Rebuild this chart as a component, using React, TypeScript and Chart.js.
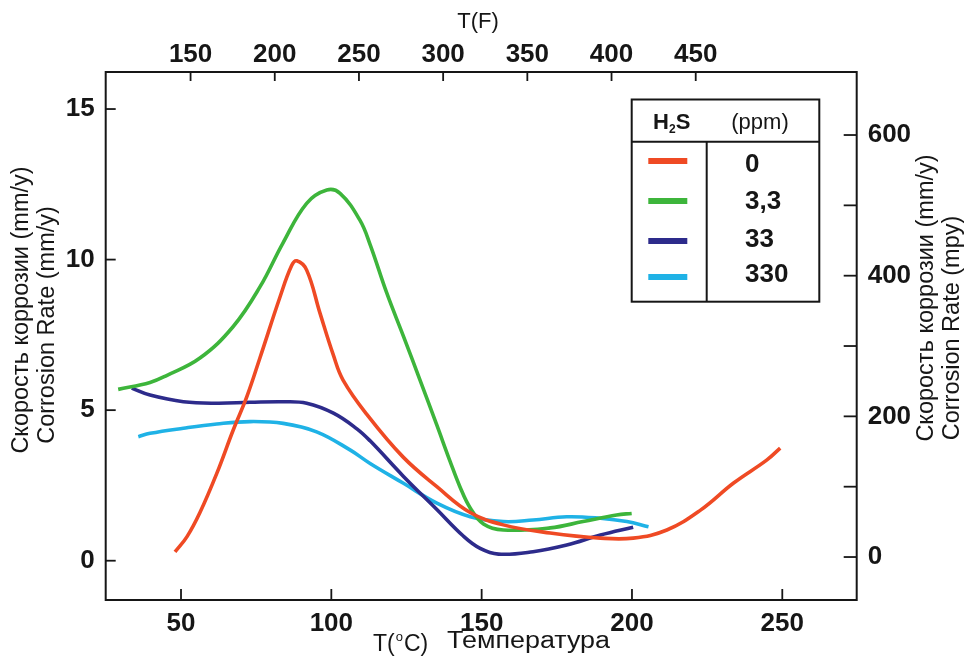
import React, { useEffect, useRef } from 'react';
import { Chart, registerables } from 'chart.js';

Chart.register(...registerables);

// ---- data (temperature °C, corrosion rate mm/y) ----
const seriesLabels = ['0', '3,3', '33', '330'];
const seriesColors = ['#ef4a24', '#3db53b', '#2d2b8b', '#1fb2e6'];

const redTemps = [48.0, 52.0, 56.3, 61.9, 67.4, 71.9, 76.3, 82.9, 86.8, 88.5, 91.8, 96.2, 100.6, 103.9, 112.2, 123.9, 135.1, 146.2, 157.2, 172.8, 189.5, 200.4, 211.6, 222.8, 233.8, 244.8, 249.3];
const redRates = [0.29, 0.8, 1.6, 2.9, 4.35, 5.45, 6.75, 8.75, 9.8, 9.96, 9.65, 8.23, 6.85, 6.0, 4.81, 3.44, 2.46, 1.6, 1.19, 0.92, 0.75, 0.75, 1.02, 1.68, 2.58, 3.34, 3.74];

const greenTemps = [29.1, 39.7, 45.2, 56.3, 67.3, 76.3, 83.9, 91.8, 98.5, 102.9, 109.5, 112.9, 118.4, 124.0, 129.5, 135.1, 139.5, 142.8, 146.2, 150.6, 157.2, 172.8, 183.7, 194.9, 199.9];
const greenRates = [5.69, 5.92, 6.15, 6.73, 7.77, 9.1, 10.55, 11.87, 12.31, 12.2, 11.31, 10.5, 8.9, 7.45, 6.0, 4.5, 3.3, 2.45, 1.75, 1.22, 1.02, 1.09, 1.3, 1.52, 1.57];

const blueTemps = [33.6, 39.7, 50.8, 61.9, 72.9, 84.0, 91.8, 100.7, 108.5, 112.9, 124.0, 135.1, 143.9, 149.5, 155.6, 167.1, 178.3, 189.5, 200.4];
const blueRates = [5.73, 5.5, 5.28, 5.23, 5.26, 5.28, 5.23, 4.9, 4.38, 3.98, 2.8, 1.7, 0.82, 0.41, 0.22, 0.3, 0.52, 0.85, 1.11];

const cyanTemps = [35.8, 39.7, 50.8, 61.9, 72.9, 84.0, 95.1, 106.2, 112.9, 124.0, 135.1, 146.2, 157.2, 167.1, 178.3, 189.5, 198.3, 205.5];
const cyanRates = [4.12, 4.23, 4.4, 4.54, 4.62, 4.56, 4.28, 3.68, 3.23, 2.57, 1.91, 1.46, 1.3, 1.35, 1.46, 1.41, 1.3, 1.13];

const celsiusTicks = [50, 100, 150, 200, 250];
const fahrenheitTicks = [150, 200, 250, 300, 350, 400, 450];
const mmTicks = [0, 5, 10, 15];
const mpyTicks = [0, 200, 400, 600];
const mpyMinorTicks = [100, 300, 500];

const FONT = '"Liberation Sans", Arial, Helvetica, sans-serif';
const INK = '#161616';

const toPoints = (xs: number[], ys: number[]) => xs.map((x, i) => ({ x, y: ys[i] }));
const seriesTemps = [redTemps, greenTemps, blueTemps, cyanTemps];
const seriesRates = [redRates, greenRates, blueRates, cyanRates];

const fixSize = (prop: 'width' | 'height', v: number) => (scale: any) => {
  scale[prop] = v;
  scale.paddingLeft = 0;
  scale.paddingRight = 0;
  scale.paddingTop = 0;
  scale.paddingBottom = 0;
};

const decorPlugin = {
  id: 'decor',
  afterDraw(chart: any) {
    const { ctx, chartArea: a, scales } = chart;
    ctx.save();
    ctx.strokeStyle = INK;
    ctx.fillStyle = INK;
    const line = (x1: number, y1: number, x2: number, y2: number) => {
      ctx.beginPath();
      ctx.moveTo(x1, y1);
      ctx.lineTo(x2, y2);
      ctx.stroke();
    };
    // frame
    ctx.lineWidth = 2;
    ctx.strokeRect(a.left, a.top, a.right - a.left, a.bottom - a.top);
    // inward ticks
    ctx.lineWidth = 1.8;
    celsiusTicks.forEach((v) => {
      const x = scales.x.getPixelForValue(v);
      line(x, a.bottom, x, a.bottom - 11);
    });
    fahrenheitTicks.forEach((v) => {
      const x = scales.xF.getPixelForValue(v);
      line(x, a.top, x, a.top + 9);
    });
    mmTicks.forEach((v) => {
      const y = scales.y.getPixelForValue(v);
      line(a.left, y, a.left + 10, y);
    });
    [...mpyTicks, ...mpyMinorTicks].forEach((v) => {
      const y = scales.yMpy.getPixelForValue(v);
      line(a.right, y, a.right - 13, y);
    });

    // axis titles
    ctx.textAlign = 'center';
    ctx.textBaseline = 'middle';
    ctx.font = `22px ${FONT}`;
    ctx.fillText('T(F)', 478, 22);

    const vText = (t: string, x: number, y: number) => {
      ctx.save();
      ctx.translate(x, y);
      ctx.rotate(-Math.PI / 2);
      ctx.fillText(t, 0, 0);
      ctx.restore();
    };
    ctx.font = `23.5px ${FONT}`;
    vText('Скорость коррозии (mm/y)', 22, 310);
    vText('Corrosion Rate (mm/y)', 48, 325);
    vText('Скорость коррозии (mm/y)', 927, 298);
    vText('Corrosion Rate (mpy)', 953, 328);

    // bottom title with superscript
    ctx.textAlign = 'left';
    ctx.font = `23px ${FONT}`;
    let bx = 373;
    const by = 645;
    ctx.fillText('T(', bx, by);
    bx += ctx.measureText('T(').width;
    ctx.font = `13px ${FONT}`;
    ctx.fillText('o', bx + 1, by - 8);
    bx += ctx.measureText('o').width + 2;
    ctx.font = `23px ${FONT}`;
    ctx.fillText('C)', bx, by);
    ctx.save();
    ctx.font = `23px ${FONT}`;
    const wT = ctx.measureText('Температура').width;
    ctx.translate(447, 642);
    ctx.scale(163 / wT, 1);
    ctx.fillText('Температура', 0, 0);
    ctx.restore();

    // legend table
    const L = 631.7, R = 819.3, T = 99.5, B = 301.7, H = 141.7, V = 706.7;
    ctx.fillStyle = '#ffffff';
    ctx.fillRect(L, T, R - L, B - T);
    ctx.fillStyle = INK;
    ctx.strokeStyle = INK;
    ctx.lineWidth = 2;
    ctx.strokeRect(L, T, R - L, B - T);
    line(L, H, R, H);
    line(V, H, V, B);
    // header H2S
    ctx.textBaseline = 'middle';
    ctx.font = `bold 22px ${FONT}`;
    const wH = ctx.measureText('H').width;
    const wS = ctx.measureText('S').width;
    ctx.font = `bold 12px ${FONT}`;
    const w2 = ctx.measureText('2').width;
    let hx = 671.7 - (wH + w2 + wS) / 2;
    ctx.font = `bold 22px ${FONT}`;
    ctx.fillText('H', hx, 123);
    hx += wH;
    ctx.font = `bold 12px ${FONT}`;
    ctx.fillText('2', hx, 130);
    hx += w2;
    ctx.font = `bold 22px ${FONT}`;
    ctx.fillText('S', hx, 123);
    ctx.font = `22px ${FONT}`;
    ctx.textAlign = 'center';
    ctx.fillText('(ppm)', 760, 123);
    // rows
    const rowLineY = [161, 201, 241, 277];
    const rowTextY = [165, 202, 240, 275];
    ctx.textAlign = 'left';
    ctx.font = `bold 26px ${FONT}`;
    seriesLabels.forEach((lab, i) => {
      ctx.strokeStyle = seriesColors[i];
      ctx.lineWidth = 6;
      line(648.3, rowLineY[i], 687.3, rowLineY[i]);
      ctx.fillStyle = INK;
      ctx.fillText(lab, 745, rowTextY[i]);
    });
    ctx.restore();
  },
};

export default function App() {
  const canvasRef = useRef<HTMLCanvasElement | null>(null);

  useEffect(() => {
    const canvas = canvasRef.current;
    if (!canvas) return;
    const tickFont = { family: FONT, size: 26, weight: 'bold' as const };
    const chart = new Chart(canvas, {
      type: 'line',
      data: {
        datasets: seriesLabels.map((lab, i) => ({
          label: lab,
          data: toPoints(seriesTemps[i], seriesRates[i]),
          borderColor: seriesColors[i],
          backgroundColor: seriesColors[i],
          borderWidth: 3.6,
          pointRadius: 0,
          tension: 0.4,
          xAxisID: 'x',
          yAxisID: 'y',
          fill: false,
        })),
      },
      plugins: [decorPlugin],
      options: {
        responsive: false,
        animation: false,
        devicePixelRatio: 1,
        layout: { padding: 0 },
        plugins: { legend: { display: false }, tooltip: { enabled: false } },
        scales: {
          x: {
            type: 'linear',
            position: 'bottom',
            min: 24.95,
            max: 274.75,
            afterFit: fixSize('height', 57),
            afterBuildTicks: (s: any) => { s.ticks = celsiusTicks.map((v) => ({ value: v })); },
            grid: { display: false, drawTicks: false },
            border: { display: false },
            ticks: { font: tickFont, color: INK, padding: 8, maxRotation: 0 },
          },
          xF: {
            type: 'linear',
            position: 'top',
            min: 99.6,
            max: 545.6,
            afterFit: fixSize('height', 72),
            afterBuildTicks: (s: any) => { s.ticks = fahrenheitTicks.map((v) => ({ value: v })); },
            grid: { display: false, drawTicks: false },
            border: { display: false },
            ticks: { font: tickFont, color: INK, padding: 2, maxRotation: 0 },
          },
          y: {
            type: 'linear',
            position: 'left',
            min: -1.305,
            max: 16.23,
            afterFit: fixSize('width', 105.7),
            afterBuildTicks: (s: any) => { s.ticks = mmTicks.map((v) => ({ value: v })); },
            grid: { display: false, drawTicks: false },
            border: { display: false },
            ticks: { font: tickFont, color: INK, padding: 11 },
          },
          yMpy: {
            type: 'linear',
            position: 'right',
            min: -61.1,
            max: 689.6,
            afterFit: fixSize('width', 111.3),
            afterBuildTicks: (s: any) => { s.ticks = mpyTicks.map((v) => ({ value: v })); },
            grid: { display: false, drawTicks: false },
            border: { display: false },
            ticks: { font: tickFont, color: INK, padding: 11 },
          },
        },
      },
    });
    return () => chart.destroy();
  }, []);

  return (
    <div style={{ position: 'absolute', left: 0, top: 0, width: 968, height: 657, background: '#ffffff' }}>
      <canvas ref={canvasRef} width={968} height={657} style={{ width: 968, height: 657, display: 'block' }} />
    </div>
  );
}
